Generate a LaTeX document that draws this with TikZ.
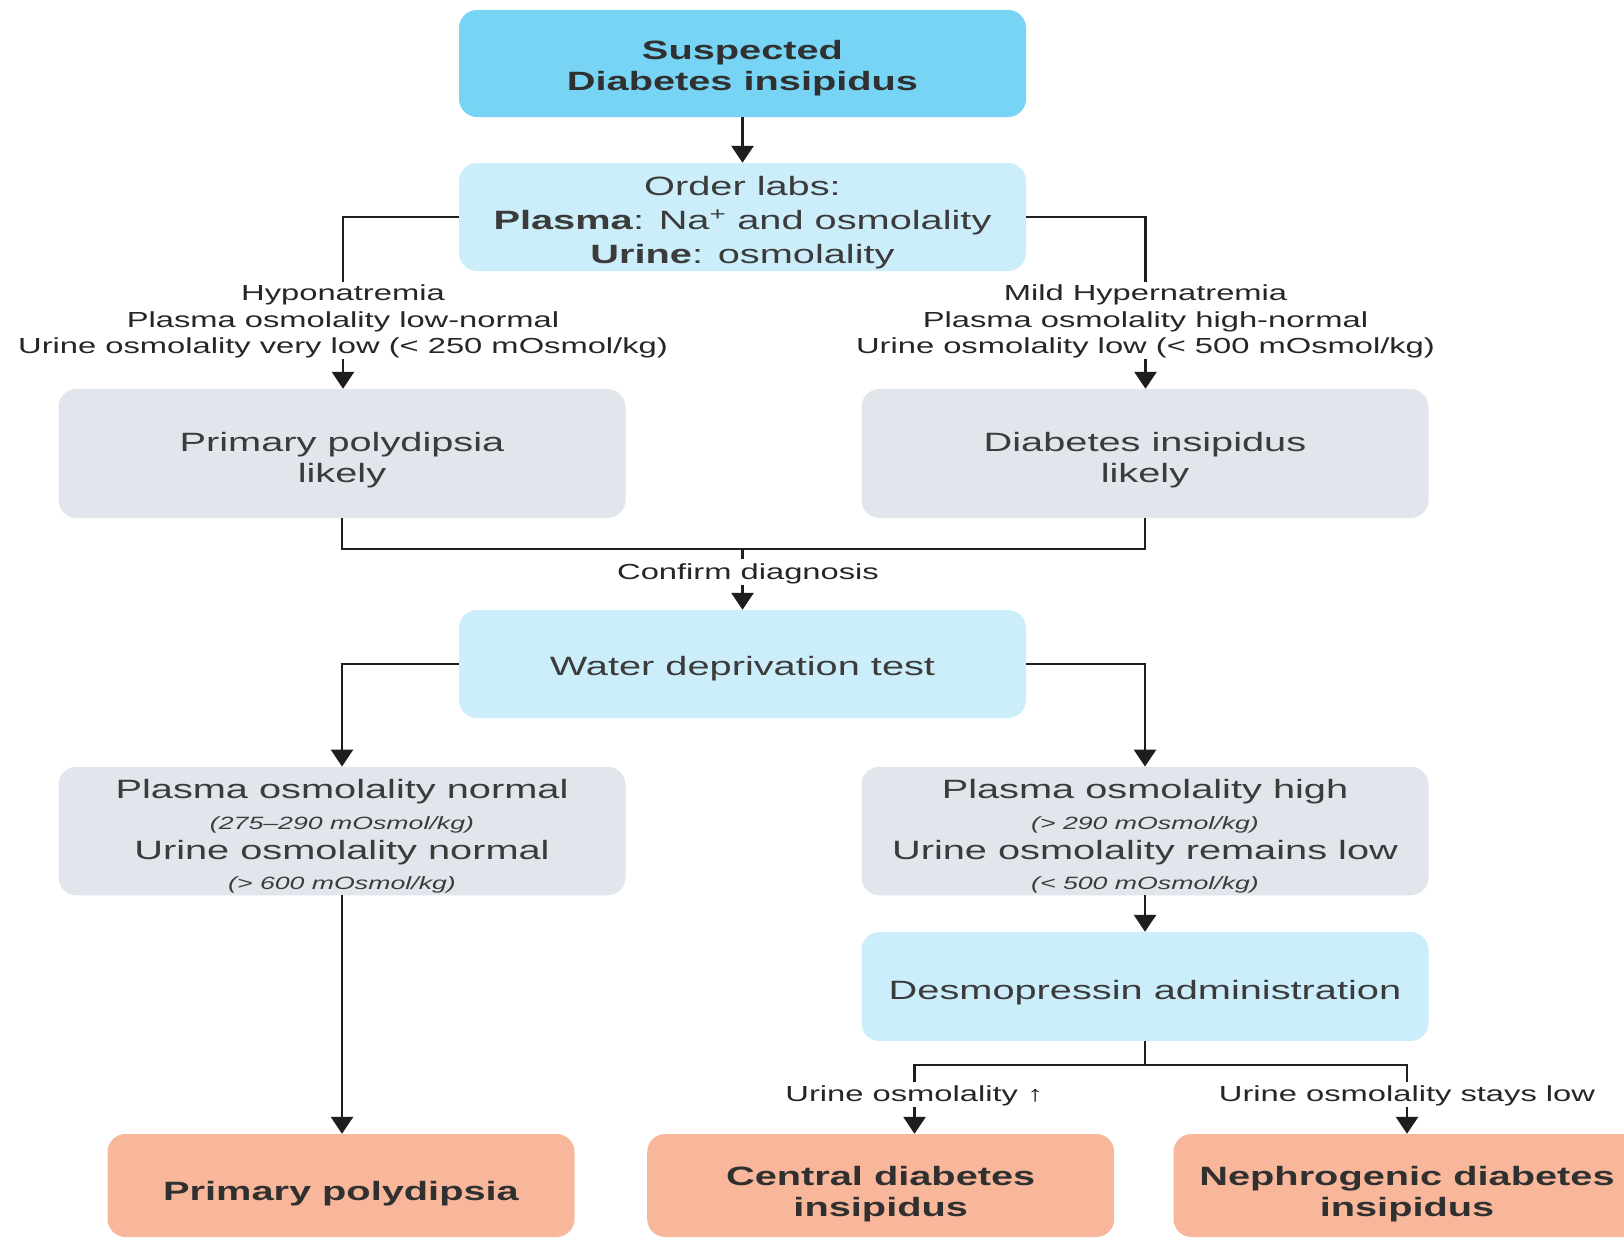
\documentclass[tikz,border=0pt]{standalone}
\usepackage{fontspec}
\setmainfont[FakeStretch=1.5]{Liberation Sans}
\usetikzlibrary{arrows.meta,calc}
\definecolor{cyanA}{HTML}{78D4F4}
\definecolor{cyanB}{HTML}{CCEEFA}
\definecolor{grayB}{HTML}{E1E5EC}
\definecolor{salmon}{HTML}{F8B79A}
\definecolor{txt}{HTML}{3B3B3B}
\definecolor{btxt}{HTML}{303030}
\definecolor{ltxt}{HTML}{262626}
\definecolor{ln}{HTML}{1E1E1E}
\newcommand{\fmain}{\fontsize{26.5}{31}\selectfont}
\newcommand{\fbig}{\fontsize{26.5}{31}\selectfont\bfseries}
\newcommand{\flab}{\fontsize{21.8}{26.4}\selectfont}
\newcommand{\fital}{\fontsize{17.8}{30.3}\selectfont\itshape}
\begin{document}
\begin{tikzpicture}[x=1pt,y=-1pt,
  box/.style={rounded corners=18pt, minimum width=567pt, inner sep=0pt, align=center, text=txt, text depth=0pt, font=\fmain},
  endbox/.style={box, fill=salmon, minimum width=467pt, minimum height=103pt, text=btxt, font=\fbig},
  lab/.style={inner sep=0pt, align=center, text=ltxt, text depth=0pt, font=\flab},
  conn/.style={draw=ln, line width=2.9pt},
  arr/.style={conn, -{Triangle[length=17pt,width=22pt]}}]
\useasboundingbox (0,0) rectangle (1624,1240);
\fill[white] (0,0) rectangle (1624,1240);
\clip (0,0) rectangle (1624,1240);

\node[box, fill=cyanA, minimum height=107pt, text=btxt, font=\fbig, text height=53.2pt] (b1) at (742.5,63.5) {Suspected\\Diabetes insipidus};
\node[box, fill=cyanB, minimum height=108pt, text height=93.8pt, font={\fontsize{26.5}{34}\selectfont}] (b2) at (742.5,217)
  {Order labs:\\\textbf{Plasma}: Na\textsuperscript{+} and osmolality\\\textbf{Urine}: osmolality};
\node[box, fill=grayB, minimum height=129pt, text height=58.6pt] (b3) at (342,453.5) {Primary polydipsia\\likely};
\node[box, fill=grayB, minimum height=129pt, text height=58.6pt] (b4) at (1145,453.5) {Diabetes insipidus\\likely};
\node[box, fill=cyanB, minimum height=108pt, text height=23.5pt] (b5) at (742.5,664) {Water deprivation test};
\node[box, fill=grayB, minimum height=128.5pt, text height=117.4pt, font={\fontsize{26.5}{30.3}\selectfont}] (b6) at (342,831)
  {Plasma osmolality normal\\{\fital (275–290 mOsmol/kg)}\\Urine osmolality normal\\{\fital (> 600 mOsmol/kg)}};
\node[box, fill=grayB, minimum height=128.5pt, text height=117.4pt, font={\fontsize{26.5}{30.3}\selectfont}] (b7) at (1145,831)
  {Plasma osmolality high\\{\fital (> 290 mOsmol/kg)}\\Urine osmolality remains low\\{\fital (< 500 mOsmol/kg)}};
\node[box, fill=cyanB, minimum height=109pt, text height=25.7pt] (b8) at (1145,986.5) {Desmopressin administration};
\node[endbox, text height=29.6pt] (b9) at (341,1185.5) {Primary polydipsia};
\node[endbox, text height=61.7pt] (b10) at (880.7,1185.5) {Central diabetes\\insipidus};
\node[endbox, text height=61.7pt] (b11) at (1407,1185.5) {Nephrogenic diabetes\\insipidus};

\node[lab] (lab1) at (343,319.3) {Hyponatremia\\Plasma osmolality low-normal\\Urine osmolality very low (< 250 mOsmol/kg)};
\node[lab] (lab2) at (1145.5,319.3) {Mild Hypernatremia\\Plasma osmolality high-normal\\Urine osmolality low (< 500 mOsmol/kg)};
\node[lab] (lab3) at (748,571.5) {Confirm diagnosis};
\node[lab] (lab4) at (914.5,1093.5) {Urine osmolality ↑};
\node[lab] (lab5) at (1407,1093.5) {Urine osmolality stays low};

\coordinate (m) at (742.5,549);
\coordinate (j) at (1145,1065);

\draw[arr] (b1.south) -- (b2.north);
\draw[conn] (b2.west) -| ($(lab1.north)+(0,-3)$);
\draw[arr] ($(lab1.south)+(0,5)$) -- (lab1.south |- b3.north);
\draw[conn] (b2.east) -| ($(lab2.north)+(0,-3)$);
\draw[arr] ($(lab2.south)+(0,5)$) -- (lab2.south |- b4.north);
\draw[conn] (b3.south) |- (m) -| (b4.south);
\draw[conn] (m) -- ($(lab3.north -| m)+(0,-4)$);
\draw[arr] ($(lab3.south -| m)+(0,5)$) -- (b5.north);
\draw[arr] (b5.west) -| (b6.north);
\draw[arr] (b5.east) -| (b7.north);
\draw[arr] (b6.south) -- (b6.south |- b9.north);
\draw[arr] (b7.south) -- (b8.north);
\draw[conn] (b8.south) -- (j);
\draw[conn] ($(lab4.north)+(0,-3)$) |- (j) -| ($(lab5.north)+(0,-3)$);
\draw[arr] ($(lab4.south)+(0,5)$) -- (lab4.south |- b10.north);
\draw[arr] ($(lab5.south)+(0,5)$) -- (lab5.south |- b11.north);
\end{tikzpicture}
\end{document}
